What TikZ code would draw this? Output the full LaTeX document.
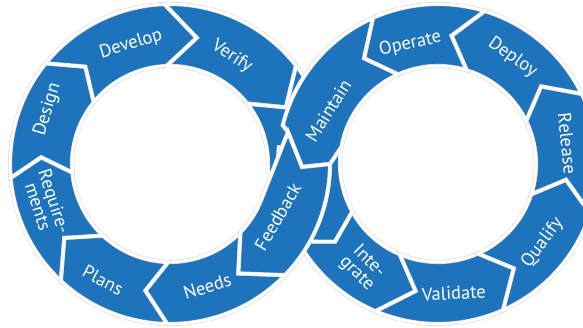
\documentclass[tikz,border=0pt]{standalone}
\usepackage{fontspec}
\setmainfont{PT Sans}
\usetikzlibrary{calc}

\definecolor{blau}{RGB}{30,116,188}
\def\raussen{160pt}
\def\rinnen{98pt}
\def\rmitte{129pt}

% Ringstueck: Mittelpunkt, Startwinkel, Endwinkel, Kerbe, Spitze
\def\pfeil#1#2#3#4#5{
	\draw[stueck] ($(#1)+(#2:\raussen)$) arc[start angle=#2, end angle=#3, radius=\raussen]
		-- ($(#1)+(#3+#5:\rmitte)$) -- ($(#1)+(#3:\rinnen)$)
		arc[start angle=#3, end angle=#2, radius=\rinnen]
		-- ($(#1)+(#2+#4:\rmitte)$) -- cycle;
}
% Beschriftung: Name, Mittelpunkt, Winkel, Radius, Drehung, Text
\def\etikett#1#2#3#4#5#6{
	\node[schrift,rotate=#5] (#1) at ($(#2)+(#3:#4pt)$) {#6};
}

\begin{document}
\begin{tikzpicture}[x=1pt,y=1pt,
	stueck/.style={fill=blau,draw=black!15,double=white,double distance=3pt,line width=0.6pt},
	schrift/.style={text=white,font=\fontsize{18.5}{17}\selectfont,align=center,inner sep=0pt}]

\clip (0,0) rectangle (583,328);

\coordinate (L) at (170,164);
\coordinate (R) at (438,164);
\coordinate (J1) at (288,196);
\coordinate (J2) at (302,161);
\coordinate (J3) at (330,164);

% linker Ring
\pfeil{L}{227}{185}{-12}{-8}
\pfeil{L}{185}{141}{-8}{-10}
\pfeil{L}{141}{92}{-10}{-14}
\pfeil{L}{92}{38}{-14}{-12}
\pfeil{L}{316}{269}{-14}{-10}
\pfeil{L}{269}{227}{-10}{-12}

% rechter Ring
\pfeil{R}{209}{247}{8}{13}
\pfeil{R}{247}{294}{13}{12}
\pfeil{R}{294}{342}{12}{11}
\pfeil{R}{342}{386}{11}{11}
\pfeil{R}{26}{73}{11}{11}
\pfeil{R}{73}{114}{11}{11}

% Kreuzung unten
\pfeil{L}{38}{-5}{-12}{0}
\pfeil{R}{174}{209}{0}{8}

% Kreuzung oben
\draw[stueck] ($(R)+(114:\raussen)$) arc[start angle=114, end angle=166, radius=\raussen]
	-- (J1) -- (J2) -- (J3) -- ($(R)+(170:\rinnen)$)
	arc[start angle=170, end angle=114, radius=\rinnen]
	-- ($(R)+(125:\rmitte)$) -- cycle;
\draw[stueck] (J1) -- (J2) -- (J3) arc[start angle=0, end angle=-44, radius=\raussen]
	-- ($(L)+(-58:\rmitte)$) -- ($(L)+(-44:\rinnen)$)
	arc[start angle=-44, end angle=-22, radius=\rinnen] -- cycle;

\etikett{requirements}{L}{198}{130}{-72}{Require-\\ments}
\etikett{design}{L}{156}{134}{73}{Design}
\etikett{develop}{L}{108}{126}{17}{Develop}
\etikett{verify}{L}{60}{124}{-33}{Verify}
\etikett{feedback}{L}{-26}{120}{60}{Feedback}
\etikett{needs}{L}{287}{128}{17}{Needs}
\etikett{plans}{L}{240}{134}{-28}{Plans}

\etikett{integrate}{R}{234}{128}{-45}{Inte-\\grate}
\etikett{validate}{R}{277}{130}{3}{Validate}
\etikett{qualify}{R}{323}{131}{53}{Qualify}
\etikett{release}{R}{9}{131}{-84}{Release}
\etikett{deploy}{R}{55}{130}{-35}{Deploy}
\etikett{operate}{R}{103}{123}{13}{Operate}
\etikett{maintain}{R}{154}{122}{58}{Maintain}

\end{tikzpicture}
\end{document}
